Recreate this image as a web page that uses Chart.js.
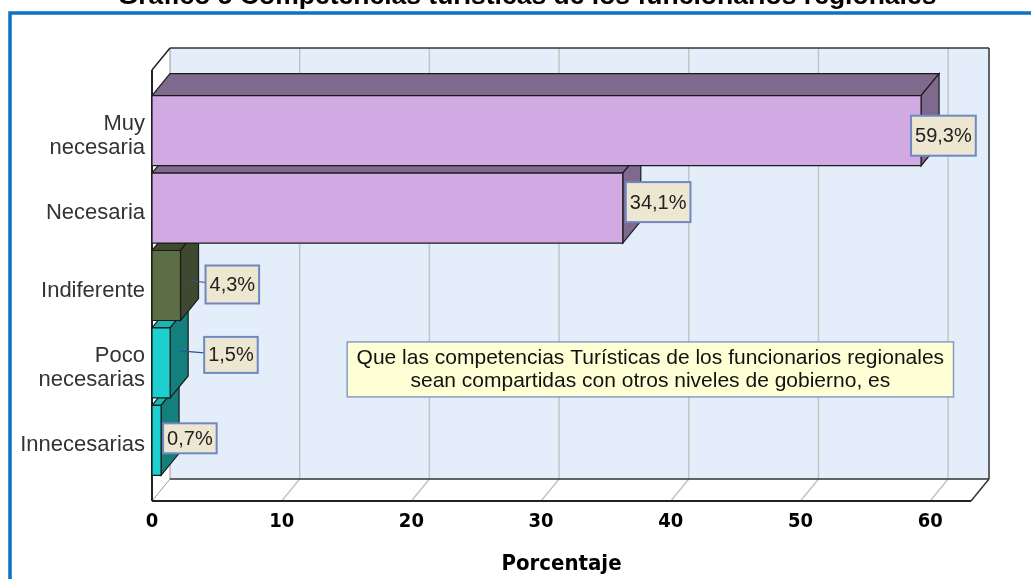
<!DOCTYPE html>
<html>
<head>
<meta charset="utf-8">
<script src="https://cdn.jsdelivr.net/npm/chart.js@4/dist/chart.umd.min.js"></script>
<style>
  html, body { margin: 0; padding: 0; background: #fff; overflow: hidden; }
  canvas { display: block; }
</style>
</head>
<body>
<canvas id="chart" width="1031" height="579"></canvas>
<script>
const chartTitle = 'Gráfico 5 Competencias turísticas de los funcionarios regionales';
const categories = [['Muy', 'necesaria'], 'Necesaria', 'Indiferente', ['Poco', 'necesarias'], 'Innecesarias'];
const percentages = [59.3, 36.3, 2.2, 1.4, 0.7];
const valueLabels = ['59,3%', '34,1%', '4,3%', '1,5%', '0,7%'];
const xTicks = [0, 10, 20, 30, 40, 50, 60];
const noteLines = [
  'Que las competencias Turísticas de los funcionarios regionales',
  'sean compartidas con otros niveles de gobierno, es',
];

const frontColors = ['#D1AAE4', '#D1AAE4', '#5B6E46', '#1ECFCF', '#1ECFCF'];
const sideColors = ['#7F6A8E', '#7F6A8E', '#3E4A30', '#13807D', '#13807D'];
const topColors = ['#7F6A8E', '#7F6A8E', '#3E4A30', '#19B5B5', '#19B5B5'];

// depth of the 3d effect
const DX = 18;
const DY = 22;

function poly(ctx, pts, fill, stroke, lw) {
  ctx.beginPath();
  ctx.moveTo(pts[0][0], pts[0][1]);
  for (let i = 1; i < pts.length; i++) ctx.lineTo(pts[i][0], pts[i][1]);
  ctx.closePath();
  if (fill) {
    ctx.fillStyle = fill;
    ctx.fill();
  }
  if (stroke) {
    ctx.strokeStyle = stroke;
    ctx.lineWidth = lw || 1;
    ctx.stroke();
  }
}

function line(ctx, x1, y1, x2, y2, color, lw) {
  ctx.beginPath();
  ctx.moveTo(x1, y1);
  ctx.lineTo(x2, y2);
  ctx.strokeStyle = color;
  ctx.lineWidth = lw;
  ctx.stroke();
}

const frame3d = {
  id: 'frame3d',
  beforeDraw(chart) {
    const { ctx, chartArea: { left, right, top, bottom }, scales: { x } } = chart;
    ctx.save();
    // title, cut off at the top like in the original
    ctx.fillStyle = '#000';
    ctx.font = 'bold 26.5px "Liberation Sans", Arial, sans-serif';
    ctx.textAlign = 'center';
    ctx.textBaseline = 'alphabetic';
    ctx.fillText(chartTitle, 527, 4);
    // blue frame
    ctx.strokeStyle = '#0B72C4';
    ctx.lineWidth = 3.5;
    ctx.strokeRect(10, 13, 1100, 700);

    const fTop = top - DY;
    const bTop = top - 2 * DY;
    const fBot = bottom + DY;
    // back wall
    poly(ctx, [[left + DX, bTop], [right + DX, bTop], [right + DX, bottom], [left + DX, bottom]], '#E3EEFA');
    // left wall
    poly(ctx, [[left, fTop], [left + DX, bTop], [left + DX, bottom], [left, fBot]], '#FFFFFF');
    // floor
    poly(ctx, [[left, fBot], [left + DX, bottom], [right + DX, bottom], [right, fBot]], '#FFFFFF');
    // grid lines on back wall and floor
    xTicks.forEach((v) => {
      if (v === 0) return;
      const px = x.getPixelForValue(v);
      line(ctx, px + DX, bTop, px + DX, bottom, '#C4C4C4', 1.5);
      line(ctx, px, fBot, px + DX, bottom, '#C4C4C4', 1.5);
    });
    line(ctx, left + DX, bTop, left + DX, bottom, '#9A9A9A', 1);
    line(ctx, left, fBot, left + DX, bottom, '#9A9A9A', 1);
    // dark edges
    line(ctx, left + DX, bTop, right + DX, bTop, '#333', 1.5);
    line(ctx, right + DX, bTop, right + DX, bottom, '#333', 1.5);
    line(ctx, left + DX, bottom, right + DX, bottom, '#333', 1.5);
    line(ctx, right + DX, bottom, right, fBot, '#333', 1.5);
    line(ctx, left, fBot, right, fBot, '#222', 2);
    line(ctx, left, fTop, left, fBot, '#222', 2);
    line(ctx, left, fTop, left + DX, bTop, '#222', 1.5);
    ctx.restore();
  },
  beforeDatasetDraw() {
    return false;
  },
  afterDatasetsDraw(chart) {
    const { ctx, scales: { x, y } } = chart;
    const meta = chart.getDatasetMeta(0);
    ctx.save();
    ctx.lineJoin = 'miter';
    // bottom bars first so the upper ones cover their top faces
    for (let i = meta.data.length - 1; i >= 0; i--) {
      const { x: xe, y: yc, base, height } = meta.data[i].getProps(['x', 'y', 'base', 'height'], true);
      const y0 = yc - height / 2;
      const y1 = yc + height / 2;
      poly(ctx, [[base, y0], [base + DX, y0 - DY], [xe + DX, y0 - DY], [xe, y0]], topColors[i], '#1A1A1A', 1.2);
      poly(ctx, [[xe, y0], [xe + DX, y0 - DY], [xe + DX, y1 - DY], [xe, y1]], sideColors[i], '#1A1A1A', 1.2);
      poly(ctx, [[base, y0], [xe, y0], [xe, y1], [base, y1]], frontColors[i], '#1A1A1A', 1.2);
    }

    // value labels
    const labelShift = [[-10, 5], [3, -6], [25, -1], [34, -8], [2, -2]];
    const labelHeight = [40, 40, 38, 36, 30];
    ctx.font = '20px "Liberation Sans", Arial, sans-serif';
    ctx.textAlign = 'center';
    ctx.textBaseline = 'middle';
    meta.data.forEach((bar, i) => {
      const { x: xe, y: yc } = bar.getProps(['x', 'y'], true);
      const w = ctx.measureText(valueLabels[i]).width + 8;
      const h = labelHeight[i];
      const bx = xe + labelShift[i][0];
      const cy = yc + labelShift[i][1];
      if (labelShift[i][0] > DX) {
        line(ctx, xe + 10, cy - 4, bx, cy - 2, '#2F4F9A', 1.2);
      }
      ctx.fillStyle = '#EDE6D0';
      ctx.fillRect(bx, cy - h / 2, w, h);
      ctx.strokeStyle = '#6F88C2';
      ctx.lineWidth = 2;
      ctx.strokeRect(bx, cy - h / 2, w, h);
      ctx.fillStyle = '#222';
      ctx.fillText(valueLabels[i], bx + w / 2, cy + 1);
    });

    // note box
    const nx0 = x.getPixelForValue(15.05);
    const nx1 = x.getPixelForValue(61.8);
    const ny = y.getPixelForValue(3);
    ctx.fillStyle = '#FFFFD6';
    ctx.fillRect(nx0, ny - 21, nx1 - nx0, 55);
    ctx.strokeStyle = '#8A9CC8';
    ctx.lineWidth = 1.5;
    ctx.strokeRect(nx0, ny - 21, nx1 - nx0, 55);
    ctx.fillStyle = '#111';
    ctx.font = '21px "Liberation Sans", Arial, sans-serif';
    noteLines.forEach((t, k) => {
      ctx.fillText(t, (nx0 + nx1) / 2, ny - 5 + k * 23);
    });
    ctx.restore();
  },
};

new Chart(document.getElementById('chart'), {
  type: 'bar',
  data: {
    labels: categories,
    datasets: [{
      data: percentages,
      backgroundColor: frontColors,
      barPercentage: 0.905,
      categoryPercentage: 1,
    }],
  },
  options: {
    indexAxis: 'y',
    responsive: false,
    animation: false,
    devicePixelRatio: 1,
    layout: {
      padding: { top: 92, right: 60, bottom: 0, left: 0 },
    },
    plugins: {
      legend: { display: false },
      tooltip: { enabled: false },
    },
    scales: {
      x: {
        min: 0,
        max: 63.15,
        afterFit(scale) { scale.height = 100; },
        grid: { display: false, drawTicks: false },
        border: { display: false },
        ticks: {
          stepSize: 10,
          includeBounds: false,
          padding: 31,
          color: '#000',
          font: { size: 20, weight: 'bold', family: '"Liberation Sans Narrow", "DejaVu Sans Condensed", Arial, sans-serif' },
        },
        title: {
          display: true,
          text: 'Porcentaje',
          color: '#000',
          padding: { top: 0, bottom: 2 },
          font: { size: 22, weight: 'bold', family: '"Liberation Sans Narrow", "DejaVu Sans Condensed", Arial, sans-serif' },
        },
      },
      y: {
        type: 'category',
        offset: true,
        afterFit(scale) { scale.width = 152; },
        grid: { display: false, drawTicks: false },
        border: { display: false },
        ticks: {
          padding: 7,
          labelOffset: 5,
          color: '#333',
          font: { size: 22, family: '"Liberation Sans", Arial, sans-serif', lineHeight: 1.1 },
        },
      },
    },
  },
  plugins: [frame3d],
});
</script>
</body>
</html>
